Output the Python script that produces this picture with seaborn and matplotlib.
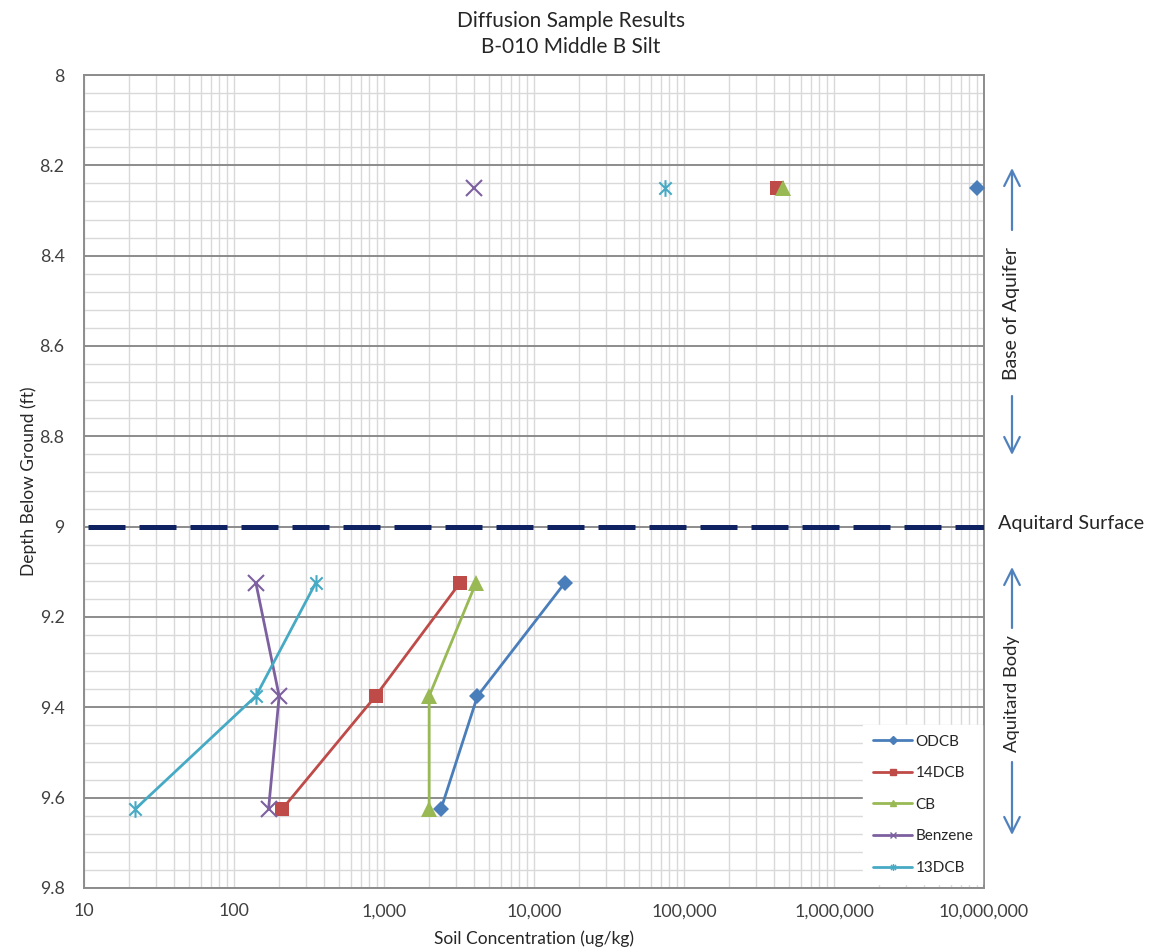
import matplotlib
matplotlib.use('Agg')
import matplotlib.pyplot as plt
import matplotlib.ticker as mticker
from matplotlib.lines import Line2D
from matplotlib.path import Path
import pandas as pd
import seaborn as sns

sns.set_style('white')
plt.rcParams['font.family'] = ['Lato', 'DejaVu Sans']

# depths (ft) and concentrations (ug/kg)
depth_upper = [8.25]
depth_lower = [9.125, 9.375, 9.625]
compounds = ['ODCB', '14DCB', 'CB', 'Benzene', '13DCB']
conc_upper = {'ODCB': [9000000], '14DCB': [420000], 'CB': [460000],
              'Benzene': [4000], '13DCB': [75000]}
conc_lower = {'ODCB': [16000, 4200, 2400],
              '14DCB': [3200, 880, 210],
              'CB': [4100, 2000, 2000],
              'Benzene': [140, 200, 170],
              '13DCB': [350, 140, 22]}
x_ticks = [10, 100, 1000, 10000, 100000, 1000000, 10000000]
aquitard_surface = 9.0

colors = {'ODCB': '#4a7ebb', '14DCB': '#be4b48', 'CB': '#98b954',
          'Benzene': '#7d60a0', '13DCB': '#46aac5'}
star = Path([(-1, -1), (1, 1), (-1, 1), (1, -1), (0, -1.35), (0, 1.35)],
            [Path.MOVETO, Path.LINETO, Path.MOVETO, Path.LINETO,
             Path.MOVETO, Path.LINETO])
markers = {'ODCB': 'D', '14DCB': 's', 'CB': '^', 'Benzene': 'x',
           '13DCB': star}
msizes = {'ODCB': 8, '14DCB': 10.5, 'CB': 11, 'Benzene': 11, '13DCB': 12}

W, H = 1150, 951
fig = plt.figure(figsize=(W / 100, H / 100), dpi=100)
ax = fig.add_axes([84 / W, 1 - 888 / H, 900 / W, 813 / H])

for c in compounds:
    col = colors[c]
    open_marker = c in ('Benzene', '13DCB')
    d = pd.DataFrame({'conc': conc_lower[c], 'depth': depth_lower})
    sns.lineplot(data=d, x='conc', y='depth', sort=False, estimator=None,
                 color=col, lw=2, marker=markers[c], markersize=msizes[c],
                 mec=col, mfc='none' if open_marker else col,
                 mew=1.5 if open_marker else 0, ax=ax, zorder=4)
    u = pd.DataFrame({'conc': conc_upper[c], 'depth': depth_upper})
    sns.lineplot(data=u, x='conc', y='depth', estimator=None, color=col,
                 lw=0, marker=markers[c], markersize=msizes[c], mec=col,
                 mfc='none' if open_marker else col,
                 mew=1.5 if open_marker else 0, ax=ax, zorder=4)

ax.axhline(aquitard_surface, xmin=0.004, color='#0f2363', lw=3.6,
           dashes=(7.4, 2.8), dash_capstyle='butt', zorder=3)

ax.set_xscale('log')
ax.set_xlim(10, 1e7)
ax.set_ylim(9.8, 8)
ax.xaxis.set_major_locator(mticker.FixedLocator(x_ticks))
ax.xaxis.set_minor_locator(mticker.LogLocator(base=10, subs=range(2, 10)))
ax.xaxis.set_major_formatter(mticker.FuncFormatter(lambda v, p: f'{v:,.0f}'))
ax.xaxis.set_minor_formatter(mticker.NullFormatter())
ax.yaxis.set_major_locator(mticker.MultipleLocator(0.2))
ax.yaxis.set_minor_locator(mticker.MultipleLocator(0.04))
ax.yaxis.set_major_formatter(mticker.FuncFormatter(lambda v, p: f'{v:g}'))

ax.set_axisbelow(True)
ax.grid(which='major', axis='y', color='#8c8c8c', lw=1.4)
ax.grid(which='minor', axis='y', color='#d9d9d9', lw=1)
ax.grid(which='both', axis='x', color='#d9d9d9', lw=1)
ax.tick_params(which='both', length=0, labelsize=12.8, colors='#404040')
ax.tick_params(axis='x', pad=11)
ax.tick_params(axis='y', pad=14)
for s in ax.spines.values():
    s.set_color('#8c8c8c')
    s.set_linewidth(1.4)

ax.set_xlabel('Soil Concentration (ug/kg)', fontsize=12.5, labelpad=8)
ax.set_ylabel('Depth Below Ground (ft)', fontsize=12.5, labelpad=2)
fig.text(571 / W, 1 - 34 / H, 'Diffusion Sample Results\nB-010 Middle B Silt',
         ha='center', va='center', fontsize=15, linespacing=1.35)

handles = [Line2D([0], [0], color=colors[c], lw=2, marker=markers[c],
                  markersize=5 if c != 'ODCB' else 4, mec=colors[c],
                  mfc=colors[c], mew=1) for c in compounds]
leg = ax.legend(handles, compounds, loc='lower right',
                bbox_to_anchor=(1, 0.003), frameon=True, fancybox=False,
                facecolor='white', edgecolor='white', framealpha=1,
                fontsize=11, labelspacing=1.15, handlelength=2.6,
                handletextpad=0.2, borderpad=0.6, borderaxespad=0.1)
leg.set_zorder(5)

arrow_col = '#4f81bd'


def arrow(x, y0, y1):
    ax.annotate('', xy=(x / W, 1 - y1 / H), xytext=(x / W, 1 - y0 / H),
                xycoords='figure fraction', textcoords='figure fraction',
                arrowprops=dict(arrowstyle='->', color=arrow_col, lw=1.6,
                                mutation_scale=28, shrinkA=0, shrinkB=0),
                annotation_clip=False)


arrow(1012, 230, 168)
arrow(1012, 396, 455)
arrow(1012, 628, 567)
arrow(1012, 762, 835)
fig.text(1012 / W, 1 - 314 / H, 'Base of Aquifer', rotation=90,
         ha='center', va='center', fontsize=14)
fig.text(1012 / W, 1 - 694 / H, 'Aquitard Body', rotation=90,
         ha='center', va='center', fontsize=13.2)
fig.text(998 / W, 1 - 523 / H, 'Aquitard Surface', ha='left', va='center',
         fontsize=14.2)

fig.savefig('out.png', dpi=100)
